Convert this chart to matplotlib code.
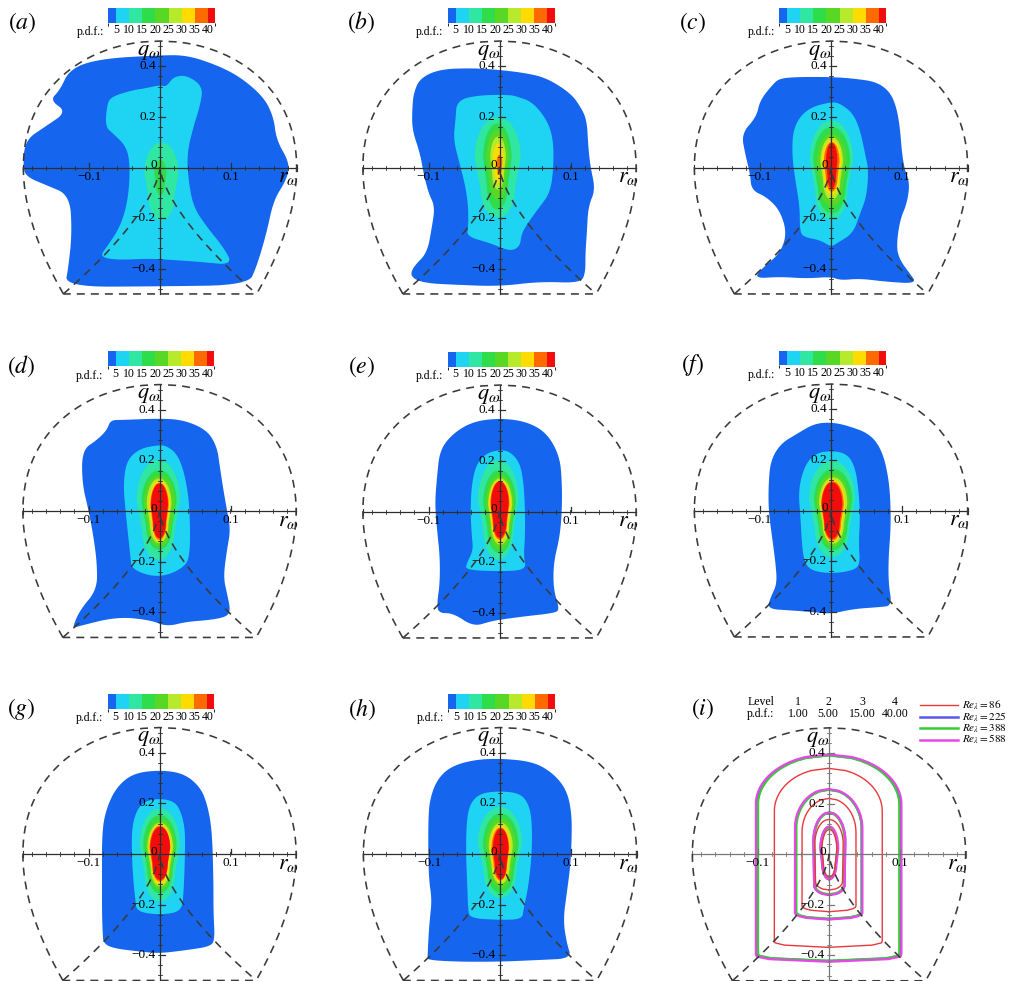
import numpy as np
import matplotlib
matplotlib.use("Agg")
import matplotlib.pyplot as plt
from matplotlib.colors import ListedColormap, BoundaryNorm
from matplotlib.colorbar import ColorbarBase
from matplotlib.lines import Line2D

plt.rcParams['font.family'] = ['Liberation Serif', 'DejaVu Serif']
plt.rcParams['mathtext.fontset'] = 'stix'

# ---------------- data ----------------
LEVELS = [1, 5, 10, 15, 20, 25, 30, 35, 40]
COLORS = ['#1565ee', '#1fd3f3', '#2fe6a2', '#2fdc4a', '#58d824',
          '#b6ea2a', '#ffdb00', '#ff6a00', '#f20d0d']
CBAR_BOUNDS = [1.9, 5, 10, 15, 20, 25, 30, 35, 40, 42.7]
CBAR_TICKS = [5, 10, 15, 20, 25, 30, 35, 40]
PANEL_LABELS = ['a', 'b', 'c', 'd', 'e', 'f', 'g', 'h', 'i']
R_TICKS = [-0.1, 0.1]
Q_TICKS = [-0.4, -0.2, 0.2, 0.4]

# pdf = 1 and pdf = 5 contours, (r, q) outline points
A_PDF1 = [(-0.134, -0.472), (-0.129, -0.393), (-0.124, -0.26), (-0.127, -0.109), (-0.16, -0.07),
          (-0.188, -0.037), (-0.193, 0.003), (-0.19, 0.108), (-0.162, 0.161), (-0.131, 0.22),
          (-0.155, 0.266), (-0.141, 0.306), (-0.127, 0.39), (-0.085, 0.43), (0.0, 0.444),
          (0.038, 0.444), (0.08, 0.405), (0.113, 0.358), (0.146, 0.279), (0.16, 0.2),
          (0.164, 0.108), (0.183, 0.016), (0.178, -0.05), (0.16, -0.129), (0.15, -0.26),
          (0.136, -0.393), (0.124, -0.465), (0.0, -0.47)]
A_PDF5 = [(-0.085, -0.353), (-0.075, -0.314), (-0.056, -0.235), (-0.045, -0.129), (-0.042, 0.003),
          (-0.047, 0.082), (-0.066, 0.134), (-0.077, 0.161), (-0.075, 0.24), (-0.07, 0.279),
          (-0.038, 0.306), (-0.023, 0.312), (0.0, 0.326), (0.009, 0.319), (0.019, 0.359),
          (0.038, 0.365), (0.061, 0.319), (0.056, 0.24), (0.047, 0.161), (0.038, 0.055),
          (0.04, -0.05), (0.047, -0.156), (0.066, -0.235), (0.089, -0.314), (0.103, -0.386),
          (0.056, -0.373), (0.019, -0.366), (-0.014, -0.36), (-0.061, -0.366)]
# inner contours: (level, q bottom, q top, r left, r right)
A_INNER = [(10, -0.21, 0.10, -0.022, 0.026), (15, -0.11, 0.03, -0.008, 0.009)]

B_PDF1 = [(-0.126, -0.431), (-0.121, -0.391), (-0.102, -0.339), (-0.095, -0.233), (-0.091, -0.154),
          (-0.1, -0.101), (-0.107, -0.022), (-0.112, 0.057), (-0.123, 0.149), (-0.123, 0.228),
          (-0.121, 0.294), (-0.112, 0.353), (-0.084, 0.389), (-0.037, 0.393), (0.0, 0.386),
          (0.038, 0.373), (0.067, 0.353), (0.1, 0.294), (0.114, 0.241), (0.123, 0.188),
          (0.125, 0.083), (0.128, 0.004), (0.135, -0.088), (0.125, -0.154), (0.123, -0.26),
          (0.121, -0.339), (0.121, -0.418), (0.114, -0.457), (0.057, -0.451), (0.0, -0.47),
          (-0.06, -0.464), (-0.107, -0.457)]
B_PDF5 = [(-0.046, -0.273), (-0.044, -0.233), (-0.044, -0.154), (-0.048, -0.075), (-0.055, 0.004),
          (-0.065, 0.109), (-0.062, 0.188), (-0.06, 0.268), (-0.025, 0.287), (0.015, 0.287),
          (0.024, 0.281), (0.046, 0.26), (0.067, 0.188), (0.076, 0.109), (0.076, -0.009),
          (0.071, -0.101), (0.057, -0.154), (0.043, -0.207), (0.031, -0.26), (0.029, -0.312),
          (0.015, -0.332), (-0.013, -0.299)]
B_INNER = [(10, -0.20, 0.20, -0.035, 0.030), (15, -0.167, 0.175, -0.023, 0.017),
           (20, -0.128, 0.149, -0.018, 0.013), (25, -0.088, 0.123, -0.013, 0.009),
           (30, -0.062, 0.096, -0.009, 0.006), (35, -0.03, 0.05, -0.004, 0.004)]

C_PDF1 = [(-0.109, -0.439), (-0.095, -0.393), (-0.072, -0.34), (-0.062, -0.261), (-0.072, -0.169),
          (-0.091, -0.116), (-0.112, -0.09), (-0.114, -0.024), (-0.121, 0.055), (-0.126, 0.134),
          (-0.105, 0.2), (-0.1, 0.266), (-0.081, 0.332), (-0.072, 0.352), (-0.048, 0.358),
          (0.0, 0.358), (0.031, 0.352), (0.064, 0.339), (0.083, 0.299), (0.092, 0.24),
          (0.097, 0.161), (0.1, 0.055), (0.104, -0.011), (0.111, -0.063), (0.107, -0.142),
          (0.097, -0.208), (0.092, -0.314), (0.097, -0.366), (0.111, -0.419), (0.121, -0.459),
          (0.078, -0.452), (0.041, -0.439), (0.013, -0.446), (0.0, -0.432), (-0.034, -0.439),
          (-0.072, -0.432)]
C_PDF5 = [(-0.041, -0.274), (-0.044, -0.235), (-0.044, -0.156), (-0.051, -0.037), (-0.055, 0.055),
          (-0.053, 0.161), (-0.034, 0.233), (0.0, 0.26), (0.013, 0.253), (0.031, 0.214),
          (0.041, 0.148), (0.048, 0.055), (0.053, -0.011), (0.05, -0.116), (0.041, -0.182),
          (0.031, -0.261), (0.008, -0.3), (0.0, -0.314), (-0.015, -0.287)]
C_INNER = [(10, -0.208, 0.187, -0.030, 0.031), (15, -0.182, 0.161, -0.025, 0.027),
           (20, -0.156, 0.134, -0.020, 0.022), (25, -0.129, 0.121, -0.015, 0.017),
           (30, -0.109, 0.108, -0.013, 0.015), (35, -0.096, 0.101, -0.010, 0.012),
           (40, -0.083, 0.098, -0.007, 0.009)]

D_PDF1 = [(-0.123, -0.464), (-0.112, -0.391), (-0.088, -0.312), (-0.088, -0.207), (-0.093, -0.101),
          (-0.1, 0.004), (-0.109, 0.109), (-0.109, 0.241), (-0.088, 0.281), (-0.074, 0.32),
          (-0.069, 0.36), (-0.051, 0.36), (0.0, 0.366), (0.034, 0.36), (0.067, 0.32),
          (0.081, 0.254), (0.085, 0.175), (0.09, 0.083), (0.095, 0.004), (0.1, -0.075),
          (0.095, -0.154), (0.09, -0.26), (0.095, -0.326), (0.1, -0.391), (0.095, -0.418),
          (0.071, -0.431), (0.038, -0.438), (0.01, -0.457), (-0.013, -0.431), (-0.06, -0.418),
          (-0.116, -0.457)]
D_PDF5 = [(-0.039, -0.233), (-0.041, -0.181), (-0.044, -0.101), (-0.048, 0.004), (-0.051, 0.109),
          (-0.046, 0.202), (-0.027, 0.248), (0.0, 0.261), (0.01, 0.257), (0.024, 0.228),
          (0.034, 0.162), (0.041, 0.057), (0.043, -0.049), (0.043, -0.154), (0.038, -0.22),
          (0.0, -0.266)]
D_INNER = [(10, -0.194, 0.202, -0.032, 0.029), (15, -0.154, 0.162, -0.025, 0.024),
           (20, -0.141, 0.142, -0.022, 0.022), (25, -0.128, 0.129, -0.018, 0.017),
           (30, -0.121, 0.120, -0.015, 0.015), (35, -0.115, 0.112, -0.013, 0.013),
           (40, -0.108, 0.109, -0.012, 0.012)]

E_PDF1 = [(-0.086, -0.402), (-0.088, -0.362), (-0.084, -0.283), (-0.084, -0.178), (-0.088, -0.072),
          (-0.091, 0.033), (-0.088, 0.138), (-0.084, 0.244), (-0.065, 0.31), (-0.037, 0.356),
          (0.0, 0.369), (0.038, 0.356), (0.067, 0.31), (0.085, 0.217), (0.088, 0.112),
          (0.088, 0.007), (0.085, -0.099), (0.076, -0.204), (0.076, -0.31), (0.085, -0.389),
          (0.076, -0.402), (0.034, -0.415), (0.0, -0.428), (-0.013, -0.435), (-0.037, -0.455),
          (-0.065, -0.402)]
E_PDF5 = [(-0.048, -0.231), (-0.046, -0.204), (-0.037, -0.152), (-0.039, -0.099), (-0.041, 0.007),
          (-0.039, 0.112), (-0.032, 0.191), (-0.018, 0.231), (0.0, 0.244), (0.015, 0.237),
          (0.029, 0.191), (0.034, 0.112), (0.036, 0.007), (0.036, -0.099), (0.034, -0.178),
          (0.038, -0.231), (0.0, -0.237)]
E_INNER = [(10, -0.191, 0.204, -0.030, 0.027), (15, -0.165, 0.165, -0.023, 0.023),
           (20, -0.152, 0.145, -0.019, 0.021), (25, -0.132, 0.132, -0.016, 0.018),
           (30, -0.119, 0.125, -0.015, 0.016), (35, -0.112, 0.121, -0.013, 0.014),
           (40, -0.105, 0.119, -0.012, 0.013)]

F_PDF1 = [(-0.09, -0.389), (-0.085, -0.343), (-0.076, -0.29), (-0.078, -0.211), (-0.083, -0.105),
          (-0.088, 0.0), (-0.088, 0.105), (-0.085, 0.198), (-0.071, 0.264), (-0.048, 0.303),
          (-0.024, 0.343), (0.0, 0.349), (0.023, 0.336), (0.055, 0.303), (0.072, 0.237),
          (0.081, 0.132), (0.084, 0.026), (0.084, -0.079), (0.081, -0.185), (0.081, -0.29),
          (0.086, -0.376), (0.069, -0.382), (0.032, -0.389), (0.0, -0.409), (-0.024, -0.402),
          (-0.057, -0.395)]
F_PDF5 = [(-0.029, -0.237), (-0.038, -0.198), (-0.041, -0.132), (-0.043, -0.026), (-0.046, 0.079),
          (-0.038, 0.171), (-0.024, 0.224), (0.0, 0.237), (0.023, 0.224), (0.034, 0.171),
          (0.039, 0.079), (0.041, -0.026), (0.039, -0.132), (0.041, -0.211), (0.032, -0.237),
          (0.0, -0.25)]
F_INNER = [(10, -0.185, 0.198, -0.031, 0.034), (15, -0.158, 0.165, -0.024, 0.030),
           (20, -0.145, 0.145, -0.021, 0.026), (25, -0.132, 0.132, -0.017, 0.023),
           (30, -0.125, 0.121, -0.015, 0.020), (35, -0.119, 0.116, -0.014, 0.018),
           (40, -0.112, 0.112, -0.013, 0.016)]

G_PDF1 = [(-0.079, -0.353), (-0.08, -0.314), (-0.081, -0.235), (-0.081, -0.103), (-0.081, 0.095),
          (-0.074, 0.187), (-0.06, 0.266), (-0.037, 0.319), (0.0, 0.332), (0.034, 0.319),
          (0.057, 0.266), (0.067, 0.2), (0.074, 0.095), (0.076, -0.103), (0.076, -0.235),
          (0.078, -0.34), (0.071, -0.366), (0.038, -0.38), (0.0, -0.393), (-0.027, -0.386),
          (-0.065, -0.373)]
G_PDF5 = [(-0.032, -0.228), (-0.034, -0.182), (-0.037, -0.103), (-0.039, 0.003), (-0.039, 0.095),
          (-0.034, 0.161), (-0.023, 0.207), (0.0, 0.22), (0.022, 0.207), (0.031, 0.161),
          (0.036, 0.095), (0.036, 0.003), (0.034, -0.156), (0.031, -0.228), (0.0, -0.241)]
G_INNER = [(10, -0.188, 0.181, -0.028, 0.029), (15, -0.156, 0.154, -0.023, 0.024),
           (20, -0.142, 0.137, -0.019, 0.022), (25, -0.129, 0.124, -0.017, 0.019),
           (30, -0.119, 0.116, -0.015, 0.017), (35, -0.109, 0.112, -0.014, 0.015),
           (40, -0.103, 0.108, -0.013, 0.015)]

H_PDF1 = [(-0.102, -0.419), (-0.102, -0.406), (-0.101, -0.34), (-0.099, -0.261), (-0.096, -0.182),
          (-0.1, -0.103), (-0.101, 0.003), (-0.101, 0.134), (-0.099, 0.214), (-0.089, 0.293),
          (-0.07, 0.345), (-0.038, 0.372), (0.0, 0.378), (0.047, 0.365), (0.075, 0.319),
          (0.094, 0.253), (0.101, 0.161), (0.101, 0.055), (0.099, -0.05), (0.094, -0.156),
          (0.089, -0.261), (0.094, -0.353), (0.101, -0.413), (0.056, -0.419), (0.0, -0.426),
          (-0.061, -0.426)]
H_PDF5 = [(-0.042, -0.254), (-0.045, -0.221), (-0.046, -0.129), (-0.048, 0.003), (-0.047, 0.134),
          (-0.042, 0.2), (-0.028, 0.24), (0.0, 0.249), (0.028, 0.24), (0.04, 0.2),
          (0.045, 0.134), (0.045, 0.003), (0.04, -0.129), (0.033, -0.221), (0.031, -0.258),
          (0.0, -0.261)]
H_INNER = [(10, -0.175, 0.187, -0.031, 0.031), (15, -0.156, 0.161, -0.024, 0.026),
           (20, -0.136, 0.141, -0.020, 0.022), (25, -0.119, 0.124, -0.016, 0.018),
           (30, -0.111, 0.113, -0.014, 0.015), (35, -0.105, 0.105, -0.012, 0.013),
           (40, -0.100, 0.101, -0.010, 0.012)]

# panel (i): contour lines at p.d.f. levels 1, 5, 15, 40 for each Re_lambda
I_LEVELS = ['1.00', '5.00', '15.00', '40.00']
I_RE = [86, 225, 388, 588]
I_COLORS = ['#e8383d', '#5d55f0', '#35cc35', '#e647e6']
I_RE86 = [(-0.368, 0.340, -0.077, 0.075), (-0.227, 0.221, -0.038, 0.038),
          (-0.141, 0.138, -0.020, 0.020), (-0.090, 0.098, -0.010, 0.011)]
I_RE225 = [(-0.422, 0.392, -0.101, 0.100), (-0.256, 0.256, -0.047, 0.046),
           (-0.160, 0.165, -0.022, 0.023), (-0.098, 0.108, -0.012, 0.012)]
I_RE388 = [(-0.421, 0.391, -0.100, 0.099), (-0.255, 0.255, -0.046, 0.046),
           (-0.158, 0.163, -0.021, 0.022), (-0.097, 0.106, -0.011, 0.012)]
I_RE588 = [(-0.425, 0.395, -0.103, 0.102), (-0.258, 0.258, -0.048, 0.047),
           (-0.161, 0.166, -0.022, 0.023), (-0.099, 0.110, -0.012, 0.013)]

PANELS = [(A_PDF1, A_PDF5, A_INNER), (B_PDF1, B_PDF5, B_INNER), (C_PDF1, C_PDF5, C_INNER),
          (D_PDF1, D_PDF5, D_INNER), (E_PDF1, E_PDF5, E_INNER), (F_PDF1, F_PDF5, F_INNER),
          (G_PDF1, G_PDF5, G_INNER), (H_PDF1, H_PDF5, H_INNER)]
I_SETS = [I_RE86, I_RE225, I_RE388, I_RE588]

# ---------------- layout ----------------
W, H = 1018, 981
SX, SY = 710.0, 252.9            # pixels per data unit (r, q)
ORIGINS = [(160, 167.5), (499.5, 167.5), (831, 167.5),
           (159.5, 511), (499.5, 511.5), (831, 510.5),
           (159.5, 854), (500, 854), (829, 854.3)]
XL, XR, YB, YT = -0.23, 0.23, -0.53, 0.56

fig = plt.figure(figsize=(W / 100, H / 100), dpi=100)


def fx(px):
    return px / W


def fy(py):
    return 1 - py / H


def chaikin(pts, it=3):
    P = np.asarray(pts, float)
    for _ in range(it):
        N = np.roll(P, -1, axis=0)
        Q = 0.75 * P + 0.25 * N
        R = 0.25 * P + 0.75 * N
        P2 = np.empty((2 * len(P), 2))
        P2[0::2] = Q
        P2[1::2] = R
        P = P2
    return P


def bullet(bot, top, left, right, cap=0.4, base=0.3, taper=0.75, n=80):
    h = top - bot
    qc = top - cap * h
    qb = bot + base * h
    c = 0.5 * (left + right)
    wmax = 0.5 * (right - left)
    q = np.linspace(bot, top, n)
    w = np.zeros_like(q)
    for k, qq in enumerate(q):
        if qq >= qc:
            w[k] = wmax * np.sqrt(max(0.0, 1 - ((qq - qc) / (cap * h)) ** 2))
        elif qq >= qb:
            w[k] = wmax * (taper + (1 - taper) * (qq - qb) / max(qc - qb, 1e-9))
        else:
            w[k] = wmax * taper * np.sqrt(max(0.0, 1 - ((qb - qq) / (base * h)) ** 2))
    r = np.concatenate([c - w, (c + w)[::-1]])
    qs = np.concatenate([q, q[::-1]])
    return r, qs


def draw_frame(ax, axis_color):
    # axes through the origin
    rmax = 0.1925
    ax.plot([-rmax, rmax], [0, 0], color=axis_color, lw=0.9, zorder=5)
    ax.plot([0, 0], [-0.5, 0.5], color=axis_color, lw=0.9, zorder=5)
    tl_r = 5 / SY
    tl_q = 5 / SX
    for t in R_TICKS:
        ax.plot([t, t], [0, tl_r], color=axis_color, lw=0.9, zorder=5)
    for t in np.arange(-0.18, 0.181, 0.02):
        if abs(t) > 1e-6:
            ax.plot([t, t], [-0.4 * tl_r, 0.4 * tl_r], color=axis_color, lw=0.6, zorder=5)
    for t in [-rmax, rmax]:
        ax.plot([t, t], [-0.6 * tl_r, 0.6 * tl_r], color=axis_color, lw=0.8, zorder=5)
    for t in Q_TICKS:
        ax.plot([0, tl_q], [t, t], color=axis_color, lw=0.9, zorder=5)
    for t in np.arange(-0.48, 0.481, 0.04):
        if abs(t) > 1e-6:
            ax.plot([-0.4 * tl_q, 0.4 * tl_q], [t, t], color=axis_color, lw=0.6, zorder=5)
    # tick labels
    for t in R_TICKS:
        lab = ('\u2212' if t < 0 else '') + f'{abs(t):.1f}'
        ax.text(t, -0.012, lab, ha='center', va='top', fontsize=9.5, zorder=6)
    for t in Q_TICKS:
        lab = ('\u2212' if t < 0 else '') + f'{abs(t):.1f}'
        ax.text(-0.006, t, lab, ha='right', va='center', fontsize=9.5, zorder=6)
    ax.text(-0.0085, 0.008, '0', ha='center', va='center', fontsize=9.5, zorder=6)
    ax.text(0.181, -0.04, r'$r_\omega$', ha='center', va='center', fontsize=16, zorder=6)
    ax.text(-0.016, 0.455, r'$q_\omega$', ha='center', va='center', fontsize=16, zorder=6)

    # theoretical boundaries (dashed)
    s = np.linspace(0, 1, 300)
    a = np.sqrt(s / 6)
    rb = 2 * a ** 3 + a * (1 - s)
    qb = 0.5 - s
    r_path = np.concatenate([(-rb)[::-1], rb[1:], [-rb[-1]]])
    q_path = np.concatenate([qb[::-1], qb[1:], [-0.5]])
    ls = (0, (5.0, 3.8))
    ax.plot(r_path, q_path, color='#3a3a3a', lw=1.15, ls=ls, zorder=7)
    qv = np.linspace(-0.5, 0, 200)
    rv = np.sqrt(-4 * qv ** 3 / 27)
    ax.plot(np.concatenate([-rv, rv[::-1]]), np.concatenate([qv, qv[::-1]]),
            color='#3a3a3a', lw=1.15, ls=ls, zorder=7)


def make_axes(ox, oy):
    left = ox + XL * SX
    bottom = oy - YB * SY
    ax = fig.add_axes([fx(left), fy(bottom), (XR - XL) * SX / W, (YT - YB) * SY / H])
    ax.set_xlim(XL, XR)
    ax.set_ylim(YB, YT)
    ax.axis('off')
    return ax


cmap = ListedColormap(COLORS)
norm = BoundaryNorm(CBAR_BOUNDS, cmap.N)

for idx, (pdf1, pdf5, inner) in enumerate(PANELS):
    ox, oy = ORIGINS[idx]
    ax = make_axes(ox, oy)
    P = chaikin(pdf1, 3)
    ax.fill(P[:, 0], P[:, 1], color=COLORS[0], lw=0, zorder=1)
    P = chaikin(pdf5, 3)
    ax.fill(P[:, 0], P[:, 1], color=COLORS[1], lw=0, zorder=2)
    for lev, bot, top, left, right in inner:
        r, q = bullet(bot, top, left, right)
        ax.fill(r, q, color=COLORS[LEVELS.index(lev)], lw=0, zorder=3)
    draw_frame(ax, '#2e2e2e')
    # colour bar
    cax = fig.add_axes([fx(ox - 52), fy(oy - 145), 107 / W, 15 / H])
    cb = ColorbarBase(cax, cmap=cmap, norm=norm, boundaries=CBAR_BOUNDS,
                      spacing='proportional', orientation='horizontal', ticks=CBAR_TICKS)
    cb.outline.set_visible(False)
    cax.tick_params(length=0, labelsize=8.5, pad=1.2)
    cax.set_xticklabels([str(t) for t in CBAR_TICKS])
    fig.text(fx(ox - 56), fy(oy - 135.5), 'p.d.f.:', ha='right', va='center', fontsize=8.5)
    fig.text(fx(ox - 138), fy(oy - 145), f'$({PANEL_LABELS[idx]})$', ha='center',
             va='center', fontsize=17)

# panel (i)
ox, oy = ORIGINS[8]
ax = make_axes(ox, oy)
caps = [0.24, 0.3, 0.35, 0.42]
bases = [0.03, 0.05, 0.12, 0.3]
tapers = [1.0, 1.0, 0.95, 0.8]
order = [1, 2, 3, 0]
for j in order:
    for k, (bot, top, left, right) in enumerate(I_SETS[j]):
        r, q = bullet(bot, top, left, right, cap=caps[k], base=bases[k], taper=tapers[k])
        r = np.append(r, r[0])
        q = np.append(q, q[0])
        ax.plot(r, q, color=I_COLORS[j], lw=1.0 if j == 0 else 1.6, zorder=4)
draw_frame(ax, '#777777')
fig.text(fx(ox - 126), fy(oy - 146), '$(i)$', ha='center', va='center', fontsize=17)

# level table (one text block, two rows)
fig.text(fx(774), fy(708), 'Level\np.d.f.:', ha='right', va='center', fontsize=8.5,
         linespacing=1.0)
for k, (xc, val) in enumerate(zip([798, 828, 862, 895], I_LEVELS)):
    fig.text(fx(xc), fy(708), f'{k + 1}\n{val}', ha='center', va='center', fontsize=8.5,
             linespacing=1.0, multialignment='center')

# legend: one multi-line text block, sample lines placed on each row
leg_text = '\n'.join(rf'$Re_\lambda = {re}$' for re in I_RE)
lt = fig.text(fx(962), fy(722.5), leg_text, ha='left', va='center', fontsize=8,
              linespacing=0.82)
fig.canvas.draw()
row_y = None
try:
    renderer = fig.canvas.get_renderer()
    _, info, _ = lt._get_layout(renderer)
    posx, posy = lt.get_transform().transform(lt.get_position())
    fs_px = 8 * 100 / 72.0
    row_y = [(posy + yy + 0.3 * fs_px) / H for (_, _, _, yy) in info]
except Exception:
    row_y = None
if row_y is None or len(row_y) != 4:
    row_y = [fy(707 + 10.5 * j) for j in range(4)]
for j, col in enumerate(I_COLORS):
    fig.add_artist(Line2D([fx(920), fx(958)], [row_y[j], row_y[j]], color=col,
                          lw=1.0 if j == 0 else 1.8, transform=fig.transFigure))

fig.savefig('out.png', dpi=100)
